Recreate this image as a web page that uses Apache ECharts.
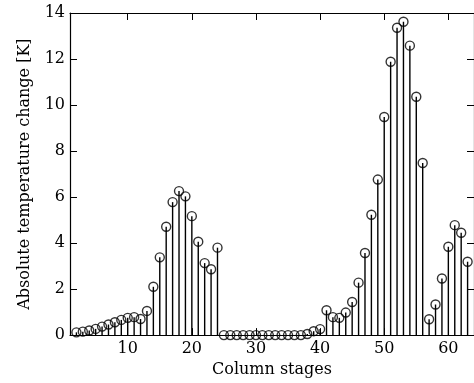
<!DOCTYPE html>
<html>
<head>
<meta charset="utf-8">
<script src="https://cdn.jsdelivr.net/npm/echarts@6/dist/echarts.min.js"></script>
<style>
  html, body { margin: 0; padding: 0; background: #fff; }
  #chart { width: 474px; height: 383px; }
</style>
</head>
<body>
<div id="chart"></div>
<script>
// stage numbers and absolute temperature change [K]
const stages = [2, 3, 4, 5, 6, 7, 8, 9, 10, 11, 12, 13, 14, 15, 16, 17, 18, 19, 20, 21, 22, 23, 24,
  25, 26, 27, 28, 29, 30, 31, 32, 33, 34, 35, 36, 37, 38, 39, 40, 41, 42, 43, 44, 45, 46, 47, 48,
  49, 50, 51, 52, 53, 54, 55, 56, 57, 58, 59, 60, 61, 62, 63];
const tempChange = [0.12, 0.15, 0.2, 0.27, 0.37, 0.46, 0.56, 0.66, 0.75, 0.78, 0.7, 1.05, 2.1,
  3.38, 4.71, 5.78, 6.26, 6.03, 5.17, 4.06, 3.13, 2.86, 3.8,
  0, 0, 0, 0, 0, 0, 0, 0, 0, 0, 0, 0, 0, 0.05, 0.17, 0.26,
  1.08, 0.78, 0.75, 0.98, 1.44, 2.28, 3.57, 5.23, 6.76, 9.48, 11.88, 13.36, 13.62, 12.58, 10.36, 7.48,
  0.69, 1.33, 2.46, 3.84, 4.78, 4.45, 3.19];
const xTicks = [10, 20, 30, 40, 50, 60];

const font = 'DejaVu Serif';
const points = stages.map((s, i) => [s, tempChange[i]]);

const chart = echarts.init(document.getElementById('chart'));

const xBase = {
  type: 'value', min: 1, max: 64,
  axisLine: { onZero: false, lineStyle: { color: '#000', width: 1.2 } },
  axisTick: { inside: true, length: 7, customValues: xTicks, lineStyle: { color: '#000', width: 1 } },
  splitLine: { show: false }
};
const yBase = {
  type: 'value', min: 0, max: 14, interval: 2,
  axisLine: { show: true, lineStyle: { color: '#000', width: 1.2 } },
  axisTick: { show: true, inside: true, length: 7, lineStyle: { color: '#000', width: 1 } },
  splitLine: { show: false }
};

chart.setOption({
  animation: false,
  grid: { left: 70, right: -5.5, top: 13, bottom: 47 },
  xAxis: [
    Object.assign({}, xBase, {
      position: 'bottom',
      name: 'Column stages', nameLocation: 'middle', nameGap: 26,
      nameTextStyle: { fontFamily: font, fontSize: 16, color: '#000' },
      axisLabel: { customValues: xTicks, fontFamily: font, fontSize: 16, color: '#000', margin: 6 }
    }),
    Object.assign({}, xBase, { position: 'top', axisLabel: { show: false } })
  ],
  yAxis: [
    Object.assign({}, yBase, {
      position: 'left',
      name: 'Absolute temperature change [K]', nameLocation: 'middle', nameGap: 37,
      nameTextStyle: { fontFamily: font, fontSize: 16, color: '#000' },
      axisLabel: { fontFamily: font, fontSize: 16, color: '#000', margin: 5 }
    }),
    Object.assign({}, yBase, { position: 'right', axisLabel: { show: false } })
  ],
  series: [
    {
      type: 'custom',
      xAxisIndex: 0, yAxisIndex: 0,
      data: points,
      renderItem: function (params, api) {
        const base = api.coord([api.value(0), 0]);
        const top = api.coord([api.value(0), api.value(1)]);
        return {
          type: 'line',
          shape: { x1: base[0], y1: base[1], x2: top[0], y2: top[1] },
          style: { stroke: '#000', lineWidth: 1.4 }
        };
      }
    },
    {
      type: 'scatter',
      xAxisIndex: 0, yAxisIndex: 0,
      data: points,
      symbol: 'circle',
      symbolSize: 9,
      itemStyle: { color: 'rgba(255,255,255,0)', borderColor: '#000', borderWidth: 1.4 }
    }
  ]
});
</script>
</body>
</html>
